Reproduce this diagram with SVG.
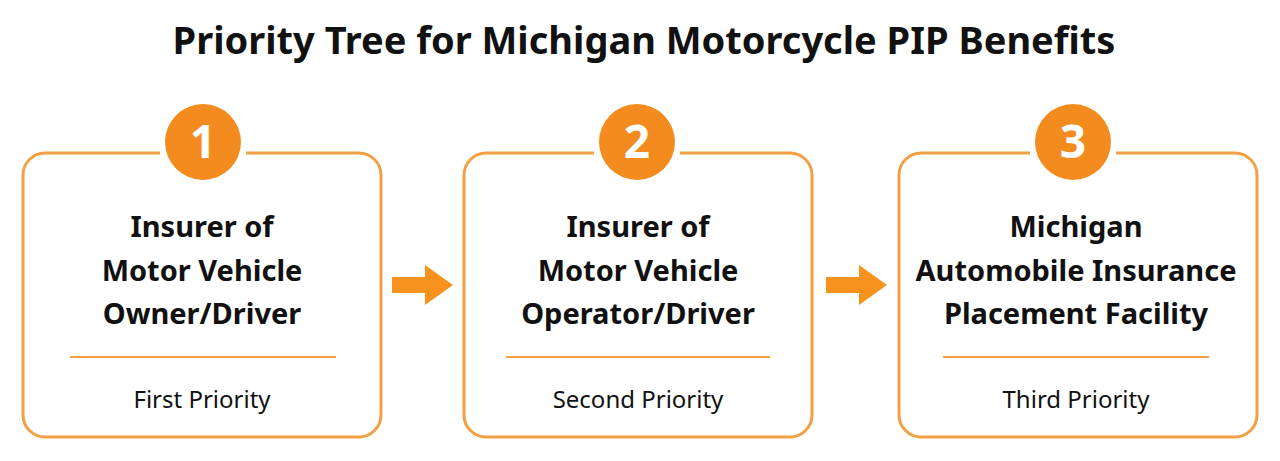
<svg xmlns="http://www.w3.org/2000/svg" width="1280" height="461" viewBox="0 0 1280 461">
<style>
.box{fill:#fff;stroke:#F2A043;stroke-width:3}
.badge{fill:#F38B1F}
.num{font-family:"Noto Sans","DejaVu Sans",sans-serif;font-weight:700;font-size:46px;fill:#fff;text-anchor:middle}
.head{font-family:"Noto Sans","DejaVu Sans",sans-serif;font-weight:700;font-size:29px;fill:#111;text-anchor:middle}
.sub{font-family:"Noto Sans","DejaVu Sans",sans-serif;font-weight:400;font-size:24px;fill:#111;text-anchor:middle}
.div{stroke:#F2A043;stroke-width:2}
.arrow{fill:#F7921E}
.title{font-family:"Noto Sans","DejaVu Sans",sans-serif;font-weight:700;font-size:38px;fill:#111;text-anchor:middle}
</style>
<rect width="1280" height="461" fill="#fff"/>
<text class="title" x="644" y="54">Priority Tree for Michigan Motorcycle PIP Benefits</text>
<g id="connectors">
<polygon class="arrow" points="392,277 425,277 425,265 453,285 425,305 425,293 392,293"/>
<polygon class="arrow" points="826,277 859,277 859,265 887,285 859,305 859,293 826,293"/>
</g>
<g id="node1">
<rect class="box" x="23" y="153" width="358" height="284" rx="22"/>
<rect x="160" y="145" width="86" height="14" fill="#fff"/>
<circle class="badge" cx="203" cy="142" r="38"/>
<text class="num" x="203" y="158">1</text>
<text class="head" x="202" y="237">Insurer of</text>
<text class="head" x="202" y="281">Motor Vehicle</text>
<text class="head" x="202" y="324">Owner/Driver</text>
<line class="div" x1="70" y1="357" x2="336" y2="357"/>
<text class="sub" x="202" y="408">First Priority</text>
</g>
<g id="node2">
<rect class="box" x="464" y="153" width="348" height="284" rx="22"/>
<rect x="594" y="145" width="86" height="14" fill="#fff"/>
<circle class="badge" cx="637" cy="142" r="38"/>
<text class="num" x="637" y="158">2</text>
<text class="head" x="638" y="237">Insurer of</text>
<text class="head" x="638" y="281">Motor Vehicle</text>
<text class="head" x="638" y="324">Operator/Driver</text>
<line class="div" x1="506" y1="357" x2="770" y2="357"/>
<text class="sub" x="638" y="408">Second Priority</text>
</g>
<g id="node3">
<rect class="box" x="899" y="153" width="358" height="284" rx="22"/>
<rect x="1030" y="145" width="86" height="14" fill="#fff"/>
<circle class="badge" cx="1073" cy="142" r="38"/>
<text class="num" x="1073" y="158">3</text>
<text class="head" x="1076" y="237">Michigan</text>
<text class="head" x="1076" y="281">Automobile Insurance</text>
<text class="head" x="1076" y="324">Placement Facility</text>
<line class="div" x1="943" y1="357" x2="1209" y2="357"/>
<text class="sub" x="1076" y="408">Third Priority</text>
</g>
</svg>
